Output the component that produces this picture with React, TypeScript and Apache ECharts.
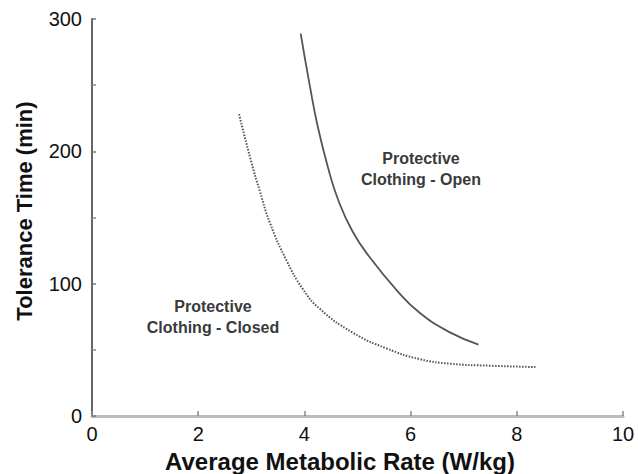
import React, { useEffect, useRef } from "react";
import * as echarts from "echarts";

const openX = [3.93, 4.1, 4.25, 4.45, 4.63, 4.9, 5.23, 5.74, 6.17, 6.75, 7.28];
const openY = [289, 250, 219, 187, 164, 140, 120, 95, 78, 63, 54];
const closedX = [2.77, 3.0, 3.16, 3.35, 3.67, 3.97, 4.29, 4.91, 5.55, 6.17, 6.75, 7.49, 8.35];
const closedY = [228, 192, 170, 146, 117, 96, 81, 63, 51, 43, 39.5, 38, 37];
const openLabel = "Protective\nClothing - Open";
const closedLabel = "Protective\nClothing - Closed";
const xTitle = "Average Metabolic Rate (W/kg)";
const yTitle = "Tolerance Time (min)";

export default function App() {
  const ref = useRef<HTMLDivElement>(null);
  useEffect(() => {
    if (!ref.current) return;
    const chart = echarts.init(ref.current, null, { renderer: "svg" });
    const font = "Liberation Sans, Arial, sans-serif";
    chart.setOption({
      animation: false,
      grid: { left: 92, right: 15, top: 19, bottom: 58 },
      xAxis: {
        type: "value",
        min: 0,
        max: 10,
        interval: 2,
        axisLine: { lineStyle: { color: "#bbb", width: 3 } },
        axisTick: { inside: true, length: 5, lineStyle: { color: "#888", width: 1.5 } },
        axisLabel: { fontFamily: font, fontSize: 20, color: "#111", margin: 8 },
        splitLine: { show: false },
      },
      yAxis: {
        type: "value",
        min: 0,
        max: 300,
        interval: 100,
        axisLine: { show: true, lineStyle: { color: "#666", width: 2 } },
        axisTick: { show: true, inside: true, length: 4, lineStyle: { color: "#777", width: 1.5 } },
        minorTick: { show: true, splitNumber: 2, length: 4, lineStyle: { color: "#888", width: 1.5 } },
        axisLabel: { fontFamily: font, fontSize: 20, color: "#111", margin: 10 },
        splitLine: { show: false },
      },
      series: [
        {
          type: "line",
          data: openX.map((x, i) => [x, openY[i]]),
          smooth: 0.5,
          showSymbol: false,
          lineStyle: { color: "#555", width: 1.8 },
        },
        {
          type: "line",
          data: closedX.map((x, i) => [x, closedY[i]]),
          smooth: 0.5,
          showSymbol: false,
          lineStyle: { color: "#555", width: 2, type: [1.5, 1.5] },
        },
      ],
      graphic: [
        {
          type: "text",
          x: 340,
          y: 461,
          style: {
            text: xTitle,
            font: "bold 24px Liberation Sans, Arial, sans-serif",
            fill: "#111",
            align: "center",
            verticalAlign: "middle",
          },
        },
        {
          type: "text",
          x: 24,
          y: 211,
          rotation: Math.PI / 2,
          style: {
            text: yTitle,
            font: "bold 22px Liberation Sans, Arial, sans-serif",
            fill: "#111",
            align: "center",
            verticalAlign: "middle",
          },
        },
        {
          type: "text",
          x: 421,
          y: 169,
          style: {
            text: openLabel,
            font: "bold 16px Liberation Sans, Arial, sans-serif",
            fill: "#3a3a3a",
            align: "center",
            verticalAlign: "middle",
            lineHeight: 21,
          },
        },
        {
          type: "text",
          x: 213,
          y: 317,
          style: {
            text: closedLabel,
            font: "bold 16px Liberation Sans, Arial, sans-serif",
            fill: "#3a3a3a",
            align: "center",
            verticalAlign: "middle",
            lineHeight: 21,
          },
        },
      ],
    });
    return () => chart.dispose();
  }, []);
  return <div ref={ref} style={{ width: 638, height: 474, position: "absolute", left: 0, top: 0 }} />;
}
